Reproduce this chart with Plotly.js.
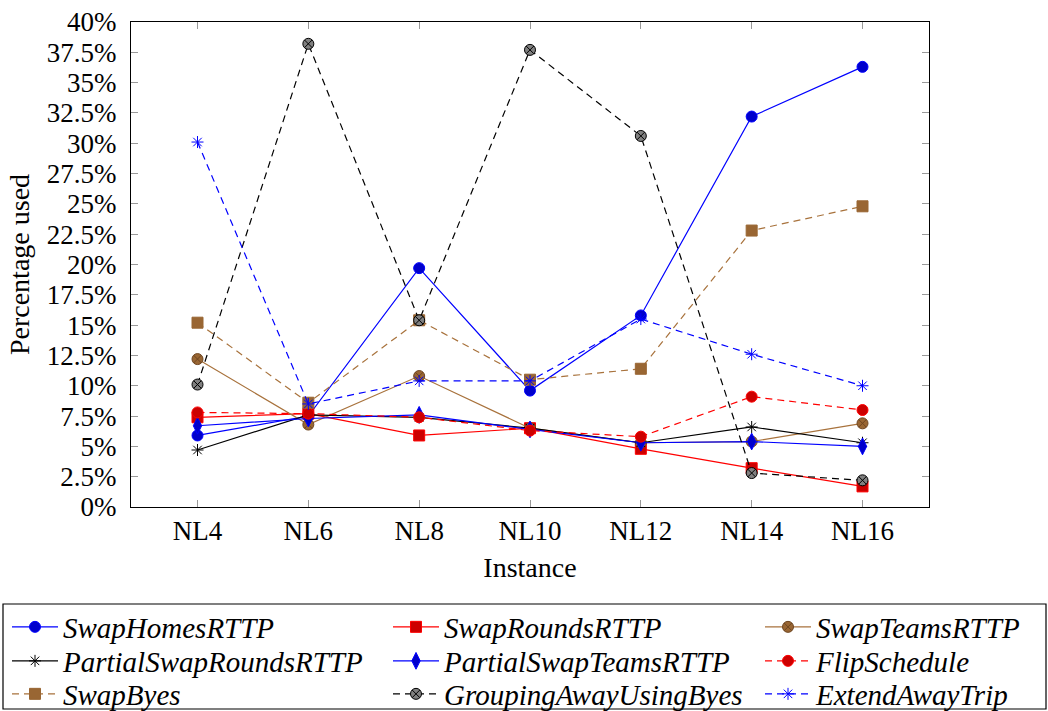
<!DOCTYPE html>
<html>
<head>
<meta charset="utf-8">
<script src="https://cdn.plot.ly/plotly-3.0.1.min.js"></script>
<style>html,body{margin:0;padding:0;background:#fff;}#chart{width:1048px;height:711px;}</style>
</head>
<body>
<div id="chart"></div>
<script>
// ---- data ----
var categories = ['NL4', 'NL6', 'NL8', 'NL10', 'NL12', 'NL14', 'NL16'];
var swapHomesRTTP = [5.9, 7.5, 19.7, 9.6, 15.8, 32.2, 36.3];
var swapRoundsRTTP = [7.4, 7.7, 5.9, 6.5, 4.8, 3.2, 1.7];
var swapTeamsRTTP = [12.2, 6.8, 10.8, 6.5, 5.3, 5.4, 6.9];
var partialSwapRoundsRTTP = [4.7, 7.6, 7.4, 6.5, 5.3, 6.6, 5.3];
var partialSwapTeamsRTTP = [6.7, 7.3, 7.6, 6.4, 5.3, 5.4, 5.0];
var flipSchedule = [7.8, 7.7, 7.4, 6.3, 5.8, 9.1, 8.0];
var swapByes = [15.2, 8.6, 15.4, 10.5, 11.4, 22.8, 24.8];
var groupingAwayUsingByes = [10.1, 38.2, 15.4, 37.7, 30.6, 2.8, 2.2];
var extendAwayTrip = [30.1, 8.5, 10.4, 10.4, 15.5, 12.6, 10.0];
var seriesNames = ['SwapHomesRTTP', 'SwapRoundsRTTP', 'SwapTeamsRTTP',
  'PartialSwapRoundsRTTP', 'PartialSwapTeamsRTTP', 'FlipSchedule',
  'SwapByes', 'GroupingAwayUsingByes', 'ExtendAwayTrip'];
var yTickVals = [0, 2.5, 5, 7.5, 10, 12.5, 15, 17.5, 20, 22.5, 25, 27.5, 30, 32.5, 35, 37.5, 40];
var yTickText = ['0%', '2.5%', '5%', '7.5%', '10%', '12.5%', '15%', '17.5%', '20%', '22.5%', '25%', '27.5%', '30%', '32.5%', '35%', '37.5%', '40%'];

// ---- styles ----
var W = 1048, H = 711;
var M = {l: 131, r: 119, t: 22, b: 204};
var PW = W - M.l - M.r, PH = H - M.t - M.b;
function px2x(px) { return (px - M.l) / PW; }
function py2y(py) { return (H - M.b - py) / PH; }

var serif = '"Liberation Serif", "Times New Roman", serif';
var legendFontSize = 29;
var blue = '#0000ff', blueFill = '#0000cc';
var red = '#ff0000', redFill = '#cc0000';
var brown = '#a8723c', brownFill = '#996633', brownEdge = '#6e4520';
var styles = [
  {color: blue, dash: 'solid', symbol: 'circle', size: 11, fill: blueFill, edge: blue, ew: 1},
  {color: red, dash: 'solid', symbol: 'square', size: 11, fill: redFill, edge: red, ew: 1},
  {color: brown, dash: 'solid', symbol: 'circle-x', size: 11, fill: brownFill, edge: brownEdge, ew: 1},
  {color: '#000000', dash: 'solid', symbol: 'asterisk-open', size: 10, fill: '#000000', edge: '#000000', ew: 1},
  {color: blue, dash: 'solid', symbol: 'diamond-tall', size: 12, fill: blueFill, edge: blue, ew: 1},
  {color: red, dash: '7px,5px', symbol: 'circle', size: 11, fill: redFill, edge: red, ew: 1},
  {color: brown, dash: '7px,5px', symbol: 'square', size: 11, fill: brownFill, edge: brownFill, ew: 1},
  {color: '#000000', dash: '7px,5px', symbol: 'circle-x', size: 11, fill: '#808080', edge: '#000000', ew: 1},
  {color: blue, dash: '7px,5px', symbol: 'asterisk-open', size: 10, fill: blue, edge: blue, ew: 1}
];
var seriesData = [swapHomesRTTP, swapRoundsRTTP, swapTeamsRTTP, partialSwapRoundsRTTP,
  partialSwapTeamsRTTP, flipSchedule, swapByes, groupingAwayUsingByes, extendAwayTrip];

// legend grid (pixels): symbol line start per column, row centres
var colLineStart = [12, 393, 765];
var symbolWidth = 46;
var rowY = [627, 661, 694];

var traces = [];
var layout = {
  width: W, height: H,
  margin: {l: M.l, r: M.r, t: M.t, b: M.b, autoexpand: false},
  paper_bgcolor: '#ffffff', plot_bgcolor: '#ffffff',
  font: {family: serif, size: 27, color: '#000000'},
  showlegend: true,
  xaxis: {
    type: 'category', categoryorder: 'array', categoryarray: categories,
    range: [-0.6, 6.6], showgrid: false, zeroline: false, automargin: true,
    showline: true, linecolor: '#000000', linewidth: 1, mirror: 'ticks',
    ticks: 'inside', ticklen: 7, tickcolor: '#999999', tickwidth: 1,
    tickfont: {family: serif, size: 27, color: '#000000'},
    title: {text: 'Instance', font: {family: serif, size: 28, color: '#000000'}, standoff: 11}
  },
  yaxis: {
    range: [0, 40], showgrid: false, zeroline: false, automargin: true,
    showline: true, linecolor: '#000000', linewidth: 1, mirror: 'ticks',
    ticks: 'inside', ticklen: 7, tickcolor: '#999999', tickwidth: 1,
    tickmode: 'array', tickvals: yTickVals, ticktext: yTickText,
    tickfont: {family: serif, size: 27, color: '#000000'},
    ticklabelstandoff: 8,
    title: {text: 'Percentage used', font: {family: serif, size: 28, color: '#000000'}, standoff: 9}
  },
  shapes: [{
    type: 'rect', xref: 'paper', yref: 'paper',
    x0: px2x(3), x1: px2x(1046), y0: py2y(709), y1: py2y(604),
    line: {color: '#000000', width: 1.2}, fillcolor: 'rgba(0,0,0,0)'
  }]
};

for (var i = 0; i < seriesNames.length; i++) {
  var s = styles[i];
  var legendKey = i === 0 ? 'legend' : 'legend' + (i + 1);
  traces.push({
    type: 'scatter', mode: 'lines+markers',
    x: categories, y: seriesData[i], name: seriesNames[i],
    legend: legendKey,
    line: {color: s.color, width: 1.2, dash: s.dash},
    marker: {symbol: s.symbol, size: s.size, color: s.fill, line: {color: s.edge, width: s.ew}},
    cliponaxis: false
  });
  var col = i % 3, row = Math.floor(i / 3);
  var legendLeft = colLineStart[col] - 5;
  layout[legendKey] = {
    xref: 'paper', yref: 'paper',
    x: px2x(legendLeft), y: py2y(rowY[row]),
    xanchor: 'left', yanchor: 'middle',
    bgcolor: 'rgba(0,0,0,0)', borderwidth: 0,
    itemwidth: symbolWidth,
    font: {family: serif, size: legendFontSize, color: '#000000', style: 'italic'}
  };
}

Plotly.newPlot('chart', traces, layout, {displayModeBar: false, staticPlot: true});
</script>
</body>
</html>
